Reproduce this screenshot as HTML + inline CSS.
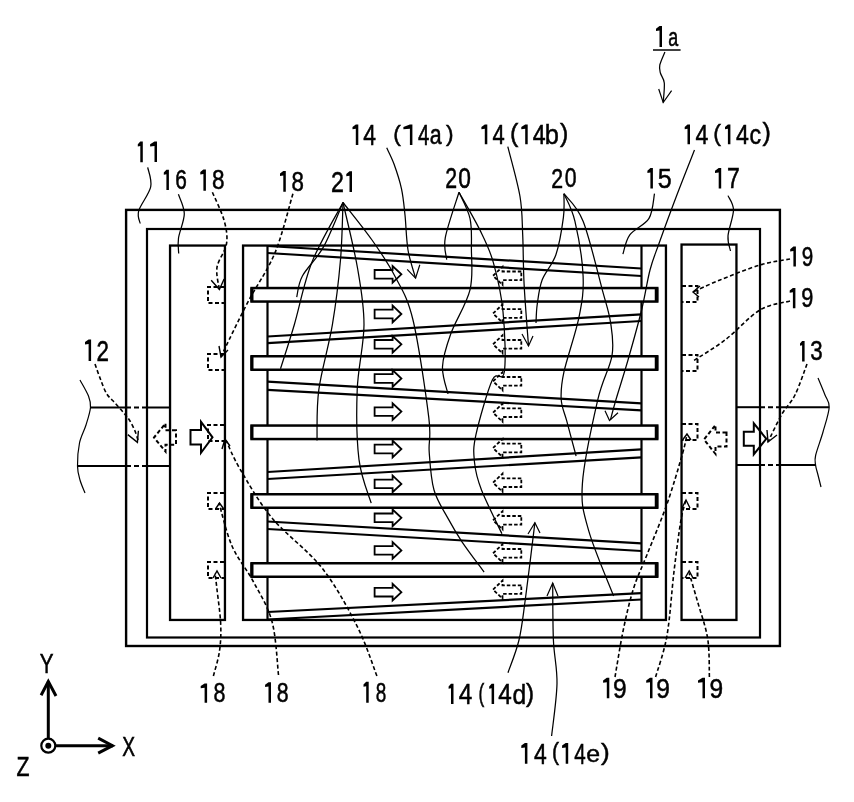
<!DOCTYPE html>
<html><head><meta charset="utf-8"><style>html,body{margin:0;padding:0;background:#fff;}svg{display:block}</style></head>
<body><svg width="854" height="802" viewBox="0 0 854 802">
<rect width="854" height="802" fill="#fff"/>
<g stroke="#000" fill="none" stroke-linecap="butt" stroke-linejoin="miter">
<rect x="126.1" y="209.9" width="653.8" height="436.1" stroke-width="2.4" fill="none"/>
<rect x="147" y="229" width="613" height="408.5" stroke-width="2.2" fill="none"/>
<rect x="170.05" y="245.55" width="54.9" height="374.4" stroke-width="2.3" fill="none"/>
<rect x="243.05" y="245.55" width="422.9" height="374.4" stroke-width="2.3" fill="none"/>
<rect x="681.55" y="244.55" width="54.9" height="375.4" stroke-width="2.3" fill="none"/>
<line x1="267.5" y1="245" x2="267.5" y2="620" stroke-width="2.2"/>
<line x1="641.5" y1="245" x2="641.5" y2="620" stroke-width="2.2"/>
<line x1="267.5" y1="246" x2="641.5" y2="268.5" stroke-width="2.2"/>
<line x1="267.5" y1="253" x2="641.5" y2="276" stroke-width="2.2"/>
<line x1="267.5" y1="336.5" x2="641.5" y2="314.3" stroke-width="2.2"/>
<line x1="267.5" y1="343.2" x2="641.5" y2="321" stroke-width="2.2"/>
<line x1="267.5" y1="381.6" x2="641.5" y2="403.3" stroke-width="2.2"/>
<line x1="267.5" y1="389.8" x2="641.5" y2="410.3" stroke-width="2.2"/>
<line x1="267.5" y1="472" x2="641.5" y2="449.4" stroke-width="2.2"/>
<line x1="267.5" y1="479" x2="641.5" y2="457.4" stroke-width="2.2"/>
<line x1="267.5" y1="521.5" x2="641.5" y2="543.4" stroke-width="2.2"/>
<line x1="267.5" y1="529" x2="641.5" y2="551" stroke-width="2.2"/>
<line x1="267.5" y1="612" x2="641.5" y2="593.2" stroke-width="2.2"/>
<line x1="267.5" y1="619.5" x2="641.5" y2="599.5" stroke-width="2.2"/>
<rect x="251.55" y="288.05" width="405.7" height="13.5" stroke-width="2.5" fill="#fff"/>
<line x1="656.5" y1="287.8" x2="656.5" y2="301.8" stroke-width="3.5"/>
<line x1="252" y1="287.8" x2="252" y2="301.8" stroke-width="3"/>
<rect x="251.55" y="356.25" width="405.7" height="13.5" stroke-width="2.5" fill="#fff"/>
<line x1="656.5" y1="356" x2="656.5" y2="370" stroke-width="3.5"/>
<line x1="252" y1="356" x2="252" y2="370" stroke-width="3"/>
<rect x="251.55" y="425.55" width="405.7" height="13.5" stroke-width="2.5" fill="#fff"/>
<line x1="656.5" y1="425.3" x2="656.5" y2="439.3" stroke-width="3.5"/>
<line x1="252" y1="425.3" x2="252" y2="439.3" stroke-width="3"/>
<rect x="251.55" y="494.25" width="405.7" height="13.5" stroke-width="2.5" fill="#fff"/>
<line x1="656.5" y1="494" x2="656.5" y2="508" stroke-width="3.5"/>
<line x1="252" y1="494" x2="252" y2="508" stroke-width="3"/>
<rect x="251.55" y="563.25" width="405.7" height="13.5" stroke-width="2.5" fill="#fff"/>
<line x1="656.5" y1="563" x2="656.5" y2="577" stroke-width="3.5"/>
<line x1="252" y1="563" x2="252" y2="577" stroke-width="3"/>
<line x1="90" y1="407.5" x2="126" y2="407.5" stroke-width="2"/>
<line x1="126" y1="407.5" x2="147" y2="407.5" stroke-width="2" stroke-dasharray="5 3"/>
<line x1="147" y1="407.5" x2="170" y2="407.5" stroke-width="2"/>
<line x1="77.5" y1="466" x2="126" y2="466" stroke-width="2"/>
<line x1="126" y1="466" x2="147" y2="466" stroke-width="2" stroke-dasharray="5 3"/>
<line x1="147" y1="466" x2="170" y2="466" stroke-width="2"/>
<line x1="736.5" y1="407.2" x2="760" y2="407.2" stroke-width="2"/>
<line x1="760" y1="407.2" x2="780" y2="407.2" stroke-width="2" stroke-dasharray="5 3"/>
<line x1="780" y1="407.2" x2="829" y2="407.2" stroke-width="2"/>
<line x1="736.5" y1="465" x2="760" y2="465" stroke-width="2"/>
<line x1="760" y1="465" x2="780" y2="465" stroke-width="2" stroke-dasharray="5 3"/>
<line x1="780" y1="465" x2="816" y2="465" stroke-width="2"/>
<path d="M80 380 C81.42 382.67 86.75 391.42 88.5 396 C90.25 400.58 90.92 402.67 90.5 407.5 C90.08 412.33 87.83 419.08 86 425 C84.17 430.92 80.92 436.17 79.5 443 C78.08 449.83 77.42 459.83 77.5 466 C77.58 472.17 78.75 475.5 80 480 C81.25 484.5 84.17 490.83 85 493" stroke-width="1.2" fill="none"/>
<path d="M818 378 C819.17 380.83 823.13 390.13 825 395 C826.87 399.87 829.53 401.03 829.2 407.2 C828.87 413.37 825.27 423.95 823 432 C820.73 440.05 816.83 449.97 815.6 455.5 C814.37 461.03 815.2 461.95 815.6 465.2 C816 468.45 817.1 471.37 818 475 C818.9 478.63 820.5 485 821 487" stroke-width="1.2" fill="none"/>
<polygon points="374.6,270 392.6,270 392.6,266 401.4,274.3 392.6,282.6 392.6,278.6 374.6,278.6" stroke-width="1.8" fill="none"/>
<polygon points="374.6,309.7 392.6,309.7 392.6,305.7 401.4,314 392.6,322.3 392.6,318.3 374.6,318.3" stroke-width="1.8" fill="none"/>
<polygon points="374.6,340 392.6,340 392.6,336 401.4,344.3 392.6,352.6 392.6,348.6 374.6,348.6" stroke-width="1.8" fill="none"/>
<polygon points="374.6,374.2 392.6,374.2 392.6,370.2 401.4,378.5 392.6,386.8 392.6,382.8 374.6,382.8" stroke-width="1.8" fill="none"/>
<polygon points="374.6,407.3 392.6,407.3 392.6,403.3 401.4,411.6 392.6,419.9 392.6,415.9 374.6,415.9" stroke-width="1.8" fill="none"/>
<polygon points="374.6,444.7 392.6,444.7 392.6,440.7 401.4,449 392.6,457.3 392.6,453.3 374.6,453.3" stroke-width="1.8" fill="none"/>
<polygon points="374.6,479.6 392.6,479.6 392.6,475.6 401.4,483.9 392.6,492.2 392.6,488.2 374.6,488.2" stroke-width="1.8" fill="none"/>
<polygon points="374.6,513.5 392.6,513.5 392.6,509.5 401.4,517.8 392.6,526.1 392.6,522.1 374.6,522.1" stroke-width="1.8" fill="none"/>
<polygon points="374.6,546.1 392.6,546.1 392.6,542.1 401.4,550.4 392.6,558.7 392.6,554.7 374.6,554.7" stroke-width="1.8" fill="none"/>
<polygon points="374.6,587.9 392.6,587.9 392.6,583.9 401.4,592.2 392.6,600.5 392.6,596.5 374.6,596.5" stroke-width="1.8" fill="none"/>
<polygon points="521.3,271.5 502.5,271.5 502.5,266.8 493,275.8 502.5,284.8 502.5,280.1 521.3,280.1" stroke-width="1.8" fill="none" stroke-dasharray="3.5 2"/>
<polygon points="521.3,309.2 502.5,309.2 502.5,304.5 493,313.5 502.5,322.5 502.5,317.8 521.3,317.8" stroke-width="1.8" fill="none" stroke-dasharray="3.5 2"/>
<polygon points="521.3,340 502.5,340 502.5,335.3 493,344.3 502.5,353.3 502.5,348.6 521.3,348.6" stroke-width="1.8" fill="none" stroke-dasharray="3.5 2"/>
<polygon points="521.3,377 502.5,377 502.5,372.3 493,381.3 502.5,390.3 502.5,385.6 521.3,385.6" stroke-width="1.8" fill="none" stroke-dasharray="3.5 2"/>
<polygon points="521.3,408.4 502.5,408.4 502.5,403.7 493,412.7 502.5,421.7 502.5,417 521.3,417" stroke-width="1.8" fill="none" stroke-dasharray="3.5 2"/>
<polygon points="521.3,443.7 502.5,443.7 502.5,439 493,448 502.5,457 502.5,452.3 521.3,452.3" stroke-width="1.8" fill="none" stroke-dasharray="3.5 2"/>
<polygon points="521.3,478.4 502.5,478.4 502.5,473.7 493,482.7 502.5,491.7 502.5,487 521.3,487" stroke-width="1.8" fill="none" stroke-dasharray="3.5 2"/>
<polygon points="521.3,516 502.5,516 502.5,511.3 493,520.3 502.5,529.3 502.5,524.6 521.3,524.6" stroke-width="1.8" fill="none" stroke-dasharray="3.5 2"/>
<polygon points="521.3,549 502.5,549 502.5,544.3 493,553.3 502.5,562.3 502.5,557.6 521.3,557.6" stroke-width="1.8" fill="none" stroke-dasharray="3.5 2"/>
<polygon points="521.3,585.3 502.5,585.3 502.5,580.6 493,589.6 502.5,598.6 502.5,593.9 521.3,593.9" stroke-width="1.8" fill="none" stroke-dasharray="3.5 2"/>
<polygon points="743.8,431.8 753.8,431.8 753.8,423.3 766.3,438.8 753.8,454.3 753.8,445.8 743.8,445.8" stroke-width="2" fill="none"/>
<polygon points="190.5,430 201,430 201,421.8 212.5,437.3 201,452.8 201,444.6 190.5,444.6" stroke-width="2" fill="none"/>
<polygon points="176,430.3 165.5,430.3 165.5,423.5 154,437.5 165.5,451.5 165.5,444.7 176,444.7" stroke-width="2" fill="none" stroke-dasharray="4 2.5"/>
<polygon points="726.5,432.5 715.5,432.5 715.5,425 704,439.5 715.5,454 715.5,446.5 726.5,446.5" stroke-width="2" fill="none" stroke-dasharray="4 2.5"/>
<polyline points="224,287 208,287 208,303 224,303" stroke-width="2" fill="none" stroke-dasharray="4 2.5"/>
<polyline points="224,354 208,354 208,370 224,370" stroke-width="2" fill="none" stroke-dasharray="4 2.5"/>
<polyline points="224,425 208,425 208,441 224,441" stroke-width="2" fill="none" stroke-dasharray="4 2.5"/>
<polyline points="224,493 208,493 208,509 224,509" stroke-width="2" fill="none" stroke-dasharray="4 2.5"/>
<polyline points="224,562 208,562 208,578 224,578" stroke-width="2" fill="none" stroke-dasharray="4 2.5"/>
<polyline points="682,286 697.5,286 697.5,302 682,302" stroke-width="2" fill="none" stroke-dasharray="4 2.5"/>
<polyline points="682,355 697.5,355 697.5,371 682,371" stroke-width="2" fill="none" stroke-dasharray="4 2.5"/>
<polyline points="682,424 697.5,424 697.5,440 682,440" stroke-width="2" fill="none" stroke-dasharray="4 2.5"/>
<polyline points="682,493 697.5,493 697.5,509 682,509" stroke-width="2" fill="none" stroke-dasharray="4 2.5"/>
<polyline points="682,562 697.5,562 697.5,578 682,578" stroke-width="2" fill="none" stroke-dasharray="4 2.5"/>
<line x1="653" y1="50" x2="680.6" y2="50" stroke-width="1.5"/>
<path d="M664.9 52 C664.05 54.17 660.55 61.5 659.8 65 C659.05 68.5 659.65 70 660.4 73 C661.15 76 663.83 78.08 664.3 83 C664.77 87.92 663.38 99.25 663.2 102.5" stroke-width="1.25" fill="none"/>
<polyline points="658.7,89 663.2,102.5 671.6,90.7" stroke-width="1.2" fill="none"/>
<path d="M147.7 167.4 C148.2 170.65 152.2 179.67 150.7 186.9 C149.2 194.13 140.45 204.7 138.7 210.8 C136.95 216.9 139.95 221.38 140.2 223.5" stroke-width="1.25" fill="none"/>
<path d="M178.4 194.3 C179.38 197.55 184.28 206.52 184.3 213.8 C184.32 221.08 179.43 231.38 178.5 238 C177.57 244.62 178.67 250.92 178.7 253.5" stroke-width="1.25" fill="none"/>
<path d="M212.4 192.3 C214.35 196.98 221.75 211.8 224.1 220.4 C226.45 229 227.68 236.08 226.5 243.9 C225.32 251.72 218.18 259.7 217 267.3 C215.82 274.9 219 285.8 219.4 289.5" stroke-width="1.6" fill="none" stroke-dasharray="4 2.5"/>
<polyline points="211.2,280.2 219.4,289.5 224.1,279" stroke-width="1.4" fill="none"/>
<path d="M292.9 193.7 C289.92 203.55 282.32 235.08 275 252.8 C267.68 270.52 256.67 285.47 249 300 C241.33 314.53 233.67 330.5 229 340 C224.33 349.5 222.33 354.17 221 357" stroke-width="1.6" fill="none" stroke-dasharray="4 2.5"/>
<polyline points="219,346 221,357 228,350" stroke-width="1.4" fill="none"/>
<path d="M343 202.5 C339.75 209.9 330.27 234.65 323.5 246.9 C316.73 259.15 306.87 267.63 302.4 276 C297.93 284.37 297.65 293.58 296.7 297.1" stroke-width="1.25" fill="none"/>
<path d="M343 202.5 C337.83 212.42 320.12 241.63 312 262 C303.88 282.37 299.55 306.9 294.3 324.7 C289.05 342.5 282.8 361.45 280.5 368.8" stroke-width="1.25" fill="none"/>
<path d="M343 202.5 C342.58 212.05 342.27 239.43 340.5 259.8 C338.73 280.17 336.02 303.03 332.4 324.7 C328.78 346.37 321.37 370.52 318.8 389.8 C316.23 409.08 317.3 431.97 317 440.4" stroke-width="1.25" fill="none"/>
<path d="M343 202.5 C345.42 213.42 354 247.63 357.5 268 C361 288.37 364.05 304.4 364 324.7 C363.95 345 358.03 367.32 357.2 389.8 C356.37 412.28 356.67 440.7 359 459.6 C361.33 478.5 369.17 495.93 371.2 503.2" stroke-width="1.25" fill="none"/>
<path d="M343 202.5 C347.83 208.75 363.37 227.75 372 240 C380.63 252.25 387.97 262.67 394.8 276 C401.63 289.33 407.33 296.38 413 320 C418.67 343.62 426.1 395.7 428.8 417.7 C431.5 439.7 428.33 439.95 429.2 452 C430.07 464.05 430.87 478.93 434 490 C437.13 501.07 443.33 509.77 448 518.4 C452.67 527.03 455.98 532.85 462 541.8 C468.02 550.75 480.42 567.05 484.1 572.1" stroke-width="1.25" fill="none"/>
<path d="M386.7 147.8 C387.92 150.5 391.53 157.17 394 164 C396.47 170.83 399.67 180.3 401.5 188.8 C403.33 197.3 403.92 204.8 405 215 C406.08 225.2 406.23 239.47 408 250 C409.77 260.53 414.33 273.5 415.6 278.2" stroke-width="1.25" fill="none"/>
<polyline points="407.2,269.4 415.6,278.2 419.8,264.8" stroke-width="1.2" fill="none"/>
<path d="M507.8 146.7 C509.83 155 517.52 181.8 520 196.5 C522.48 211.2 522.02 220.27 522.7 234.9 C523.38 249.53 523.13 265.78 524.1 284.3 C525.07 302.82 527.77 335.72 528.5 346" stroke-width="1.25" fill="none"/>
<polyline points="522,334 528.5,346 533,336" stroke-width="1.2" fill="none"/>
<path d="M459 192.3 C456.72 199.85 447.35 226.38 445.3 237.6 C443.25 248.82 446.47 255.93 446.7 259.6" stroke-width="1.25" fill="none"/>
<path d="M459 192.3 C460.83 196.65 467.93 209.02 470 218.4 C472.07 227.78 471.4 236.7 471.4 248.6 C471.4 260.5 473.43 275.62 470 289.8 C466.57 303.98 455.38 320.9 450.8 333.7 C446.22 346.5 442.97 356.55 442.5 366.6 C442.03 376.65 447.08 389.43 448 394" stroke-width="1.25" fill="none"/>
<path d="M459 192.3 C462.43 198.48 473.88 217.73 479.6 229.4 C485.32 241.07 489.4 248.58 493.3 262.3 C497.2 276.02 501.17 293.42 503 311.7 C504.83 329.98 506.08 360.62 504.3 372 C502.52 383.38 497.03 369.52 492.3 380 C487.57 390.48 478.87 421.18 475.9 434.9 C472.93 448.62 473.58 453.15 474.5 462.3 C475.42 471.45 476.83 477.9 481.4 489.8 C485.97 501.7 498.48 526.38 501.9 533.7" stroke-width="1.25" fill="none"/>
<path d="M563.9 193.7 C563.82 197.65 564.73 207.22 563.4 217.4 C562.07 227.58 559.43 244.4 555.9 254.8 C552.37 265.2 545.32 271.48 542.2 279.8 C539.08 288.12 538.23 297.5 537.2 304.7 C536.17 311.9 536.2 319.95 536 323" stroke-width="1.25" fill="none"/>
<path d="M563.9 193.7 C565.73 198.28 571.7 207.48 574.9 221.2 C578.1 234.92 582.42 260 583.1 276 C583.78 292 582.2 301.18 579 317.2 C575.8 333.22 566.87 358.38 563.9 372.1 C560.93 385.82 560.72 391.32 561.2 399.5 C561.68 407.68 564.32 411.78 566.8 421.2 C569.28 430.62 574.55 450.2 576.1 456" stroke-width="1.25" fill="none"/>
<path d="M563.9 193.7 C567.1 198.28 576.7 205.18 583.1 221.2 C589.5 237.22 597.72 272.88 602.3 289.8 C606.88 306.72 608.98 311.73 610.6 322.7 C612.22 333.67 614.13 342.77 612 355.6 C609.87 368.43 602.73 378.37 597.8 399.7 C592.87 421.03 583.93 461.82 582.4 483.6 C580.87 505.38 583.4 511.67 588.6 530.4 C593.8 549.13 609.43 585.07 613.6 596" stroke-width="1.25" fill="none"/>
<path d="M654.5 193.7 C653.58 197.82 653.12 211.53 649 218.4 C644.88 225.27 634.15 228.95 629.8 234.9 C625.45 240.85 624.05 250.9 622.9 254.1" stroke-width="1.25" fill="none"/>
<path d="M694.5 150 C691.5 157.67 682.42 180.42 676.5 196 C670.58 211.58 663.42 231.17 659 243.5 C654.58 255.83 652.9 258.92 650 270 C647.1 281.08 645.27 295 641.6 310 C637.93 325 632.27 345.08 628 360 C623.73 374.92 618.92 389.57 616 399.5 C613.08 409.43 611.42 416.25 610.5 419.6" stroke-width="1.25" fill="none"/>
<polyline points="605,410.7 609.5,420.5 618,412.7" stroke-width="1.2" fill="none"/>
<path d="M728 195.6 C728.92 198 733.5 203.27 733.5 210 C733.5 216.73 728.5 229.17 728 236 C727.5 242.83 730.08 248.5 730.5 251" stroke-width="1.25" fill="none"/>
<path d="M790 259 C785 260 771.67 261.5 760 265 C748.33 268.5 731.17 275.5 720 280 C708.83 284.5 697.5 290 693 292" stroke-width="1.6" fill="none" stroke-dasharray="4 2.5"/>
<polyline points="700,286 693,292 699,297" stroke-width="1.4" fill="none"/>
<path d="M790 301 C785 302.5 770.83 303.5 760 310 C749.17 316.5 736.17 331.5 725 340 C713.83 348.5 698.33 357.5 693 361" stroke-width="1.6" fill="none" stroke-dasharray="4 2.5"/>
<path d="M95 364 C95.88 366.47 98.37 373.87 100.3 378.8 C102.23 383.73 104.15 389.57 106.6 393.6 C109.05 397.63 112.17 399.82 115 403 C117.83 406.18 121.1 409.7 123.6 412.7 C126.1 415.7 128.05 417.82 130 421 C131.95 424.18 133.9 428.42 135.3 431.8 C136.7 435.18 137.88 439.72 138.4 441.3" stroke-width="1.6" fill="none" stroke-dasharray="4 2.5"/>
<polyline points="127.8,434.6 137.4,442.3 138.4,430.7" stroke-width="1.4" fill="none"/>
<path d="M807 364 C805 369.17 799.17 386.67 795 395 C790.83 403.33 786.5 406.17 782 414 C777.5 421.83 770.33 437.33 768 442" stroke-width="1.6" fill="none" stroke-dasharray="4 2.5"/>
<polyline points="767,430 768,442 777,435" stroke-width="1.4" fill="none"/>
<path d="M213.4 676 C214.42 671.83 218.28 659.67 219.5 651 C220.72 642.33 221.12 634.25 220.7 624 C220.28 613.75 217.95 598 217 589.5 C216.05 581 215.33 575.75 215 573" stroke-width="1.6" fill="none" stroke-dasharray="4 2.5"/>
<polyline points="213,578 217,571 221,578" stroke-width="1.4" fill="none"/>
<path d="M278.5 675 C277.42 666.08 276.25 637.17 272 621.5 C267.75 605.83 259.67 593.58 253 581 C246.33 568.42 237.67 559 232 546 C226.33 533 221.17 510.17 219 503" stroke-width="1.6" fill="none" stroke-dasharray="4 2.5"/>
<polyline points="215.5,509 219.5,503 223.8,509" stroke-width="1.4" fill="none"/>
<path d="M376.9 676 C373.62 667.73 366.35 644.4 357.2 626.4 C348.05 608.4 336.2 586.07 322 568 C307.8 549.93 285.67 534.5 272 518 C258.33 501.5 247.63 481.9 240 469 C232.37 456.1 228.5 445.33 226.2 440.6" stroke-width="1.6" fill="none" stroke-dasharray="4 2.5"/>
<polyline points="222,449 225,439 230,446" stroke-width="1.4" fill="none"/>
<path d="M508 672.7 C509.83 667.25 516.12 652.2 519 640 C521.88 627.8 522.65 619.05 525.3 599.5 C527.95 579.95 533.3 535.5 534.9 522.7" stroke-width="1.25" fill="none"/>
<polyline points="528,534 534.9,522.7 540,533" stroke-width="1.2" fill="none"/>
<path d="M551.6 736 C552.5 727.27 556.7 699.6 557 683.6 C557.3 667.6 554.12 656.77 553.4 640 C552.68 623.23 552.82 592.5 552.7 583" stroke-width="1.25" fill="none"/>
<polyline points="547,596 552.7,583 558,596" stroke-width="1.2" fill="none"/>
<path d="M615 677 C616.42 668.97 620.38 643.63 623.5 628.8 C626.62 613.97 629.78 600.35 633.7 588 C637.62 575.65 641.45 568.7 647 554.7 C652.55 540.7 661.08 520.83 667 504 C672.92 487.17 679.17 465.37 682.5 453.7 C685.83 442.03 686.25 437.28 687 434" stroke-width="1.6" fill="none" stroke-dasharray="4 2.5"/>
<polyline points="682.5,440 687,434 691,440" stroke-width="1.4" fill="none"/>
<path d="M655.6 677 C657.5 670.08 663.93 653.08 667 635.5 C670.07 617.92 671.7 590.58 674 571.5 C676.3 552.42 678.8 532.92 680.8 521 C682.8 509.08 685.13 503.5 686 500" stroke-width="1.6" fill="none" stroke-dasharray="4 2.5"/>
<polyline points="682,508 686,500 690,508" stroke-width="1.4" fill="none"/>
<path d="M709.4 677 C709.12 670.63 709.67 651.33 707.7 638.8 C705.73 626.27 700.68 612.73 697.6 601.8 C694.52 590.87 690.6 577.97 689.2 573.2" stroke-width="1.6" fill="none" stroke-dasharray="4 2.5"/>
<polyline points="685,578 689.2,571 693,578" stroke-width="1.4" fill="none"/>
<circle cx="48.3" cy="745.7" r="7" stroke-width="2.2" fill="none"/>
<circle cx="48.3" cy="745.7" r="3" fill="#000" stroke="none"/>
<line x1="48.3" y1="738.5" x2="48.3" y2="681.5" stroke-width="3"/>
<polyline points="41.1,695.2 48.3,681.5 56,696" stroke-width="3" fill="none"/>
<line x1="55.5" y1="745.7" x2="113" y2="745.7" stroke-width="3"/>
<polyline points="98.2,738.2 112.5,745.7 98.2,753.2" stroke-width="3" fill="none"/>
<g fill="#000" stroke="none"><polygon points="656,28.7 659.5,26.1 662,26.1 662,46.9 659.5,46.9 659.5,30.5 656,31"/><polygon points="352.5,127 355.8,124.4 358.3,124.4 358.3,145 355.8,145 355.8,128.8 352.5,129.3"/><polygon points="403.4,127 409.9,124.4 412.4,124.4 412.4,145 409.9,145 409.9,128.8 403.4,129.3"/><polygon points="481.4,127 484.8,124.4 487.3,124.4 487.3,144.3 484.8,144.3 484.8,128.8 481.4,129.3"/><polygon points="521.3,127 525.2,124.4 527.7,124.4 527.7,144.3 525.2,144.3 525.2,128.8 521.3,129.3"/><polygon points="684.7,127 687.5,124.4 690,124.4 690,144.3 687.5,144.3 687.5,128.8 684.7,129.3"/><polygon points="725,127 727.9,124.4 730.4,124.4 730.4,144.3 727.9,144.3 727.9,128.8 725,129.3"/><polygon points="137.8,144.2 140.3,141.6 142.8,141.6 142.8,162.2 140.3,162.2 140.3,146 137.8,146.5"/><polygon points="150.1,144.2 154.5,141.6 157,141.6 157,161.9 154.5,161.9 154.5,146 150.1,146.5"/><polygon points="163.8,172.4 166.4,169.8 168.9,169.8 168.9,190 166.4,190 166.4,174.2 163.8,174.7"/><polygon points="200.3,172.1 203.4,169.5 205.9,169.5 205.9,190.8 203.4,190.8 203.4,173.9 200.3,174.4"/><polygon points="280,173.6 283.3,171 285.8,171 285.8,191.7 283.3,191.7 283.3,175.4 280,175.9"/><polygon points="346.3,173.9 349.5,171.3 352,171.3 352,191.9 349.5,191.9 349.5,175.7 346.3,176.2"/><polygon points="647.4,170.7 650.4,168.1 652.9,168.1 652.9,188.4 650.4,188.4 650.4,172.5 647.4,173"/><polygon points="715,170.7 718.7,168.1 721.2,168.1 721.2,188.4 718.7,188.4 718.7,172.5 715,173"/><polygon points="790.2,249.2 793.4,246.6 795.9,246.6 795.9,266.6 793.4,266.6 793.4,251 790.2,251.5"/><polygon points="789.7,290.5 792.9,287.9 795.4,287.9 795.4,308.3 792.9,308.3 792.9,292.3 789.7,292.8"/><polygon points="85,342.1 88.6,339.5 91.1,339.5 91.1,361 88.6,361 88.6,343.9 85,344.4"/><polygon points="800,343.5 802.1,340.9 804.6,340.9 804.6,361.5 802.1,361.5 802.1,345.3 800,345.8"/><polygon points="200.7,686 204.6,683.4 207.1,683.4 207.1,702.7 204.6,702.7 204.6,687.8 200.7,688.3"/><polygon points="265.1,684.8 268.5,682.2 271,682.2 271,702.7 268.5,702.7 268.5,686.6 265.1,687.1"/><polygon points="363.5,684.4 366.2,681.8 368.7,681.8 368.7,702.7 366.2,702.7 366.2,686.2 363.5,686.7"/><polygon points="448.6,686.4 451,683.8 453.5,683.8 453.5,704.1 451,704.1 451,688.2 448.6,688.7"/><polygon points="489.2,686.4 491.6,683.8 494.1,683.8 494.1,704.1 491.6,704.1 491.6,688.2 489.2,688.7"/><polygon points="603.1,680.4 606.8,677.8 609.3,677.8 609.3,698.2 606.8,698.2 606.8,682.2 603.1,682.7"/><polygon points="646.2,680.4 650,677.8 652.5,677.8 652.5,698.2 650,698.2 650,682.2 646.2,682.7"/><polygon points="698,680.4 702.5,677.8 705,677.8 705,698.2 702.5,698.2 702.5,682.2 698,682.7"/><polygon points="521.3,745.6 524.9,743 527.4,743 527.4,763.7 524.9,763.7 524.9,747.4 521.3,747.9"/><polygon points="562.1,745.6 565.7,743 568.2,743 568.2,763.7 565.7,763.7 565.7,747.4 562.1,747.9"/></g>
<g font-family="Liberation Sans" font-size="100" fill="#000" stroke="#000" stroke-width="0.5" style="opacity:0.999" vector-effect="non-scaling-stroke"><text vector-effect="non-scaling-stroke" transform="matrix(0.1788 0 0 0.2600 668.13 46.19)">a</text><text vector-effect="non-scaling-stroke" transform="matrix(0.2294 0 0 0.2956 363.29 145.05)">4</text><text vector-effect="non-scaling-stroke" transform="matrix(0.2269 0 0 0.2277 393.29 140.67)">(</text><text vector-effect="non-scaling-stroke" transform="matrix(0.2039 0 0 0.2956 418.04 145.05)">4</text><text vector-effect="non-scaling-stroke" transform="matrix(0.2135 0 0 0.2709 429.80 144.48)">a</text><text vector-effect="non-scaling-stroke" transform="matrix(0.2269 0 0 0.2277 445.92 141.27)">)</text><text vector-effect="non-scaling-stroke" transform="matrix(0.2196 0 0 0.2853 492.41 144.34)">4</text><text vector-effect="non-scaling-stroke" transform="matrix(0.2500 0 0 0.2564 510.05 141.57)">(</text><text vector-effect="non-scaling-stroke" transform="matrix(0.2314 0 0 0.2853 532.79 144.34)">4</text><text vector-effect="non-scaling-stroke" transform="matrix(0.2545 0 0 0.2808 544.87 144.05)">b</text><text vector-effect="non-scaling-stroke" transform="matrix(0.2500 0 0 0.2564 559.90 141.57)">)</text><text vector-effect="non-scaling-stroke" transform="matrix(0.2314 0 0 0.2853 695.59 144.34)">4</text><text vector-effect="non-scaling-stroke" transform="matrix(0.2308 0 0 0.2372 713.37 140.87)">(</text><text vector-effect="non-scaling-stroke" transform="matrix(0.2314 0 0 0.2853 735.99 144.34)">4</text><text vector-effect="non-scaling-stroke" transform="matrix(0.2326 0 0 0.2673 749.62 143.78)">c</text><text vector-effect="non-scaling-stroke" transform="matrix(0.2500 0 0 0.2564 762.60 141.07)">)</text><text vector-effect="non-scaling-stroke" transform="matrix(0.2087 0 0 0.2775 175.31 189.47)">6</text><text vector-effect="non-scaling-stroke" transform="matrix(0.2255 0 0 0.2761 211.95 189.47)">8</text><text vector-effect="non-scaling-stroke" transform="matrix(0.2234 0 0 0.2789 291.46 190.77)">8</text><text vector-effect="non-scaling-stroke" transform="matrix(0.2326 0 0 0.2871 330.89 191.65)">2</text><text vector-effect="non-scaling-stroke" transform="matrix(0.2130 0 0 0.2900 445.28 187.95)">2</text><text vector-effect="non-scaling-stroke" transform="matrix(0.2271 0 0 0.2859 458.34 187.66)">0</text><text vector-effect="non-scaling-stroke" transform="matrix(0.2130 0 0 0.2843 551.18 187.75)">2</text><text vector-effect="non-scaling-stroke" transform="matrix(0.2125 0 0 0.2775 564.80 187.27)">0</text><text vector-effect="non-scaling-stroke" transform="matrix(0.2511 0 0 0.2829 657.65 187.87)">5</text><text vector-effect="non-scaling-stroke" transform="matrix(0.2304 0 0 0.2912 727.00 188.44)">7</text><text vector-effect="non-scaling-stroke" transform="matrix(0.2065 0 0 0.2704 801.72 265.78)">9</text><text vector-effect="non-scaling-stroke" transform="matrix(0.2174 0 0 0.2803 801.16 307.47)">9</text><text vector-effect="non-scaling-stroke" transform="matrix(0.2239 0 0 0.2857 96.43 360.75)">2</text><text vector-effect="non-scaling-stroke" transform="matrix(0.2234 0 0 0.2817 810.36 360.27)">3</text><text vector-effect="non-scaling-stroke" transform="matrix(0.2149 0 0 0.2732 213.49 702.18)">8</text><text vector-effect="non-scaling-stroke" transform="matrix(0.2128 0 0 0.2817 276.80 702.17)">8</text><text vector-effect="non-scaling-stroke" transform="matrix(0.1894 0 0 0.2831 375.79 701.97)">8</text><text vector-effect="non-scaling-stroke" transform="matrix(0.2431 0 0 0.2912 458.86 704.14)">4</text><text vector-effect="non-scaling-stroke" transform="matrix(0.1731 0 0 0.2606 478.51 701.78)">(</text><text vector-effect="non-scaling-stroke" transform="matrix(0.2431 0 0 0.2912 498.16 704.14)">4</text><text vector-effect="non-scaling-stroke" transform="matrix(0.2467 0 0 0.2824 512.46 703.57)">d</text><text vector-effect="non-scaling-stroke" transform="matrix(0.2423 0 0 0.2606 526.01 701.78)">)</text><text vector-effect="non-scaling-stroke" transform="matrix(0.2457 0 0 0.2803 613.02 697.67)">9</text><text vector-effect="non-scaling-stroke" transform="matrix(0.2457 0 0 0.2803 656.22 697.67)">9</text><text vector-effect="non-scaling-stroke" transform="matrix(0.2457 0 0 0.2803 709.52 697.67)">9</text><text vector-effect="non-scaling-stroke" transform="matrix(0.2294 0 0 0.2971 533.89 763.75)">4</text><text vector-effect="non-scaling-stroke" transform="matrix(0.2115 0 0 0.2479 551.98 760.04)">(</text><text vector-effect="non-scaling-stroke" transform="matrix(0.2059 0 0 0.2971 574.14 763.75)">4</text><text vector-effect="non-scaling-stroke" transform="matrix(0.2489 0 0 0.2473 586.35 762.00)">e</text><text vector-effect="non-scaling-stroke" transform="matrix(0.2615 0 0 0.2479 601.09 760.04)">)</text><text vector-effect="non-scaling-stroke" transform="matrix(0.2066 0 0 0.2783 39.83 673.45)">Y</text><text vector-effect="non-scaling-stroke" transform="matrix(0.1918 0 0 0.2783 122.17 755.75)">X</text><text vector-effect="non-scaling-stroke" transform="matrix(0.2127 0 0 0.2768 16.41 776.25)">Z</text></g>
</g></svg></body></html>
